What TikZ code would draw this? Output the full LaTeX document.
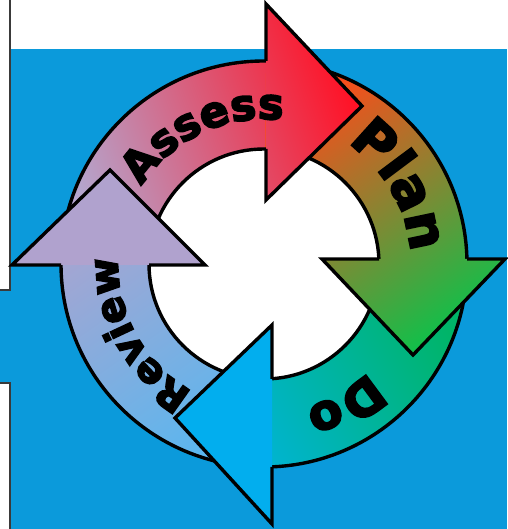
\documentclass[tikz,border=0pt]{standalone}
\usepackage{fontspec}
\newfontfamily\blk{DejaVu Sans}[UprightFont={* Bold},UprightFeatures={FakeBold=4}]
\usetikzlibrary{decorations.text}
\definecolor{bgblue}{HTML}{0B9ADB}
\definecolor{edgegray}{HTML}{3A3A3A}
\definecolor{Aone}{HTML}{B4A6CE}
\definecolor{Atwo}{HTML}{FF1226}
\definecolor{Pone}{HTML}{FF4A1A}
\definecolor{Pmid}{HTML}{C89A40}
\definecolor{Ptwo}{HTML}{10C04A}
\definecolor{Done}{HTML}{00B468}
\definecolor{Dtwo}{HTML}{00B4EC}
\definecolor{Dhead}{HTML}{02AEEE}
\definecolor{Rone}{HTML}{5CB6EE}
\definecolor{Rtwo}{HTML}{B3A2CC}
\definecolor{Rhead}{HTML}{B0A2CE}
\newcommand\fA{\blk\fontsize{43}{50}\selectfont}
\newcommand\fP{\blk\fontsize{53}{60}\selectfont}
\newcommand\fD{\blk\fontsize{49}{54}\selectfont}
\newcommand\fR{\blk\fontsize{40}{50}\selectfont}
\begin{document}
\begin{tikzpicture}[x=1pt,y=1pt,
  outl/.style={line width=3.4pt,draw=black,line join=miter,miter limit=10},
  leftline/.style={line width=2pt,draw=edgegray},
  lbl/.style={decorate,decoration={text along path,text align=center}}]
\useasboundingbox (0,0) rectangle (507,529);
% background
\fill[white] (0,0) rectangle (507,529);
\fill[bgblue] (11,0) rectangle (507,480);
\fill[bgblue] (0,146) rectangle (11,239);
\draw[leftline] (9.5,529) -- (9.5,239) -- (0,239);
\draw[leftline] (0,146) -- (9.5,146) -- (9.5,0);
% hole
\fill[white] (264,265) circle[radius=115];
% shafts
\begin{scope}
\clip ([shift={(264,265)}]180.3:203) arc[start angle=180.3,end angle=88,radius=203]
  -- ([shift={(264,265)}]88:115) arc[start angle=88,end angle=180.3,radius=115] -- cycle;
\shade[left color=Aone,right color=Atwo,shading angle=110] (61,264) rectangle (362,525);
\end{scope}
\begin{scope}
\clip ([shift={(264,265)}]89.4:203) arc[start angle=89.4,end angle=-2,radius=203]
  -- ([shift={(264,265)}]-2:115) arc[start angle=-2,end angle=89.4,radius=115] -- cycle;
\shade[top color=Pone,middle color=Pmid,bottom color=Ptwo,shading angle=35] (264,174) rectangle (505,468);
\end{scope}
\begin{scope}
\clip ([shift={(264,265)}]1.4:203) arc[start angle=1.4,end angle=-92,radius=203]
  -- ([shift={(264,265)}]-92:115) arc[start angle=-92,end angle=1.4,radius=115] -- cycle;
\shade[left color=Dtwo,right color=Done,shading angle=120] (175,5) rectangle (467,270);
\end{scope}
\begin{scope}
\clip ([shift={(264,265)}]-87.7:203) arc[start angle=-87.7,end angle=-182,radius=203]
  -- ([shift={(264,265)}]-182:115) arc[start angle=-182,end angle=-87.7,radius=115] -- cycle;
\shade[top color=Rtwo,bottom color=Rone,shading angle=35] (12,62) rectangle (272,359);
\end{scope}
% ring outlines
\draw[outl] (264,265) circle[radius=203];
\draw[outl] (264,265) circle[radius=115];
% heads
\begin{scope}
\clip (266,525) -- (362,423) -- (266,329) -- cycle;
\shade[left color=Aone,right color=Atwo,shading angle=110] (61,264) rectangle (362,525);
\end{scope}
\draw[outl] (266,468) -- (266,525) -- (362,423) -- (266,329) -- (266,380);
\begin{scope}
\clip (505,270) -- (413,174) -- (322,270) -- cycle;
\shade[top color=Pone,middle color=Pmid,bottom color=Ptwo,shading angle=35] (264,174) rectangle (505,468);
\end{scope}
\draw[outl] (467,270) -- (505,270) -- (413,174) -- (322,270) -- (379,270);
\fill[Dhead] (272,5) -- (175,111) -- (272,204) -- cycle;
\draw[outl] (272,62) -- (272,5) -- (175,111) -- (272,204) -- (272,150);
\fill[Rhead] (12,264) -- (110,359) -- (205,264) -- cycle;
\draw[outl] (61,264) -- (12,264) -- (110,359) -- (205,264) -- (149,264);
% labels
\path[lbl,decoration={text={|\fA|Assess}}] ([shift={(264,265)}]175:145) arc[start angle=175,end angle=55,radius=145];
\path[lbl,decoration={text={|\fP|Plan}}] ([shift={(264,265)}]90:147) arc[start angle=90,end angle=-30,radius=147];
\path[lbl,decoration={text={|\fD|Do}}] ([shift={(264,265)}]0:150) arc[start angle=0,end angle=-120,radius=150];
\path[lbl,decoration={text={|\fR|Review}}] ([shift={(264,265)}]269:146) arc[start angle=269,end angle=149,radius=146];
\end{tikzpicture}
\end{document}
